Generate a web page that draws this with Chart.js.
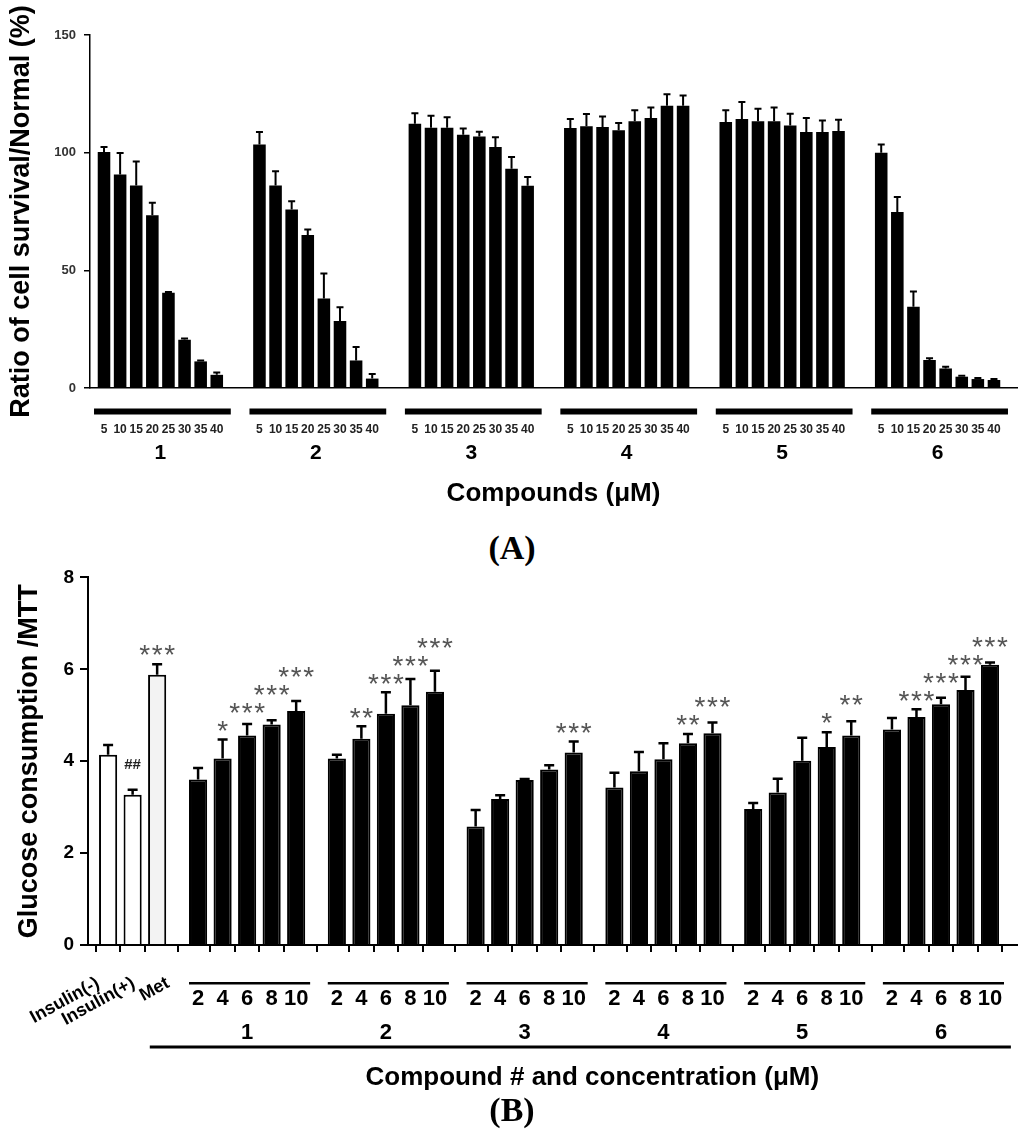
<!DOCTYPE html>
<html><head><meta charset="utf-8">
<script src="https://cdn.jsdelivr.net/npm/chart.js@4.4.1/dist/chart.umd.min.js"></script>
<style>
body{margin:0;background:#fff;}
#wrap{position:relative;width:1024px;height:1140px;overflow:hidden;background:#fff;}
canvas{position:absolute;left:0;}
.panel{position:absolute;left:0;width:1024px;text-align:center;font:bold 34px "Liberation Serif","Times New Roman",serif;color:#000;line-height:34px;}
</style></head><body>
<div id="wrap">
<canvas id="chartA" width="1024" height="520" style="top:0;width:1024px;height:520px"></canvas>
<div class="panel" style="top:531px">(A)</div>
<canvas id="chartB" width="1024" height="580" style="top:560px;width:1024px;height:580px"></canvas>
<div class="panel" style="top:1093px">(B)</div>
</div>
<script>
// ---------------- Panel A data ----------------
const concA = ['5','10','15','20','25','30','35','40'];
const compoundsA = ['1','2','3','4','5','6'];
const yTicksA = [0, 50, 100, 150];
const survival1 = [100.3, 90.7, 86.0, 73.4, 40.5, 20.5, 11.3, 5.6];
const survivalErr1 = [2.1, 9.2, 10.2, 5.3, 0.3, 0.5, 0.4, 1.0];
const survival2 = [103.5, 86.0, 75.8, 65.0, 38.0, 28.5, 11.7, 4.0];
const survivalErr2 = [5.3, 6.1, 3.6, 2.4, 10.7, 5.8, 5.7, 1.9];
const survival3 = [112.3, 110.6, 110.6, 107.6, 106.9, 102.4, 93.2, 85.9];
const survivalErr3 = [4.5, 5.1, 4.4, 2.7, 2.0, 4.2, 5.0, 3.8];
const survival4 = [110.5, 111.2, 110.9, 109.5, 113.3, 114.7, 119.9, 119.9];
const survivalErr4 = [3.8, 5.2, 4.5, 3.1, 4.7, 4.5, 4.9, 4.4];
const survival5 = [113.0, 114.3, 113.3, 113.3, 111.5, 108.8, 108.8, 109.2];
const survivalErr5 = [5.0, 7.2, 5.4, 5.9, 5.0, 5.9, 4.9, 4.8];
const survival6 = [100.0, 74.8, 34.5, 11.9, 8.3, 4.8, 3.8, 3.4];
const survivalErr6 = [3.5, 6.4, 6.5, 0.7, 0.7, 0.4, 0.4, 0.4];

// ---------------- Panel B data ----------------
const controlsB = ['Insulin(-)', 'Insulin(+)', 'Met'];
const controlValues = [4.14, 3.27, 5.88];
const controlErr = [0.21, 0.11, 0.23];
const controlSig = ['', '##', '***'];
const concB = ['2','4','6','8','10'];
const compoundsB = ['1','2','3','4','5','6'];
const yTicksB = [0, 2, 4, 6, 8];
const glucose1 = [3.60, 4.06, 4.56, 4.80, 5.09];
const glucoseErr1 = [0.25, 0.41, 0.25, 0.09, 0.22];
const sig1 = ['', '*', '***', '***', '***'];
const glucose2 = [4.06, 4.49, 5.03, 5.22, 5.51];
const glucoseErr2 = [0.08, 0.27, 0.47, 0.57, 0.46];
const sig2 = ['', '**', '***', '***', '***'];
const glucose3 = [2.58, 3.18, 3.59, 3.82, 4.19];
const glucoseErr3 = [0.36, 0.08, 0.02, 0.09, 0.24];
const sig3 = ['', '', '', '', '***'];
const glucose4 = [3.43, 3.78, 4.04, 4.39, 4.61];
const glucoseErr4 = [0.32, 0.42, 0.35, 0.20, 0.23];
const sig4 = ['', '', '', '**', '***'];
const glucose5 = [2.96, 3.32, 4.01, 4.31, 4.56];
const glucoseErr5 = [0.13, 0.30, 0.50, 0.32, 0.31];
const sig5 = ['', '', '', '*', '**'];
const glucose6 = [4.69, 4.96, 5.24, 5.55, 6.10];
const glucoseErr6 = [0.25, 0.17, 0.14, 0.29, 0.05];
const sig6 = ['', '***', '***', '***', '***'];

// ---------------- helpers ----------------
const FONT = '"Liberation Sans", Arial, Helvetica, sans-serif';
Chart.defaults.font.family = FONT;
Chart.defaults.color = '#000';

function drawErrorBars(chart, errors, capHalf, lw) {
  const meta = chart.getDatasetMeta(0);
  const ys = chart.scales.y;
  const data = chart.data.datasets[0].data;
  const ctx = chart.ctx;
  ctx.save();
  ctx.strokeStyle = '#000'; ctx.lineWidth = lw;
  meta.data.forEach((el, i) => {
    const e = errors[i];
    if (!e) return;
    const top = ys.getPixelForValue(data[i].y + e);
    ctx.beginPath();
    ctx.moveTo(el.x, el.y); ctx.lineTo(el.x, top);
    ctx.moveTo(el.x - capHalf, top); ctx.lineTo(el.x + capHalf, top);
    ctx.stroke();
  });
  ctx.restore();
}
function noSidePadding(s) { s.paddingLeft = 0; s.paddingRight = 0; }

// ---------------- Panel A ----------------
const GROUP_A = 9.65;
const survivalAll = [survival1, survival2, survival3, survival4, survival5, survival6];
const survivalErrAll = [survivalErr1, survivalErr2, survivalErr3, survivalErr4, survivalErr5, survivalErr6];
const pointsA = [], errA = [], labelsA = [];
survivalAll.forEach((arr, g) => arr.forEach((v, i) => {
  pointsA.push({x: g * GROUP_A + i, y: v});
  errA.push(survivalErrAll[g][i]);
  labelsA.push(concA[i]);
}));

const pluginA = {
  id: 'annA',
  afterDatasetsDraw(chart) { drawErrorBars(chart, errA, 3.5, 2); },
  afterDraw(chart) {
    const ctx = chart.ctx, xs = chart.scales.x;
    ctx.save();
    compoundsA.forEach((name, g) => {
      const x0 = xs.getPixelForValue(g * GROUP_A - 0.62);
      const x1 = xs.getPixelForValue(g * GROUP_A + concA.length - 1 + 0.87);
      ctx.fillStyle = '#000';
      ctx.fillRect(x0, 408.5, x1 - x0, 6);
      ctx.font = 'bold 21px ' + FONT;
      ctx.textAlign = 'center'; ctx.textBaseline = 'middle';
      ctx.fillText(name, xs.getPixelForValue(g * GROUP_A + (concA.length - 1) / 2), 453);
    });
    ctx.restore();
  }
};

new Chart(document.getElementById('chartA'), {
  type: 'bar',
  data: { datasets: [{ data: pointsA, backgroundColor: '#000', borderWidth: 0,
    barPercentage: 0.78, categoryPercentage: 1 }] },
  options: {
    responsive: false, animation: false, devicePixelRatio: 1,
    layout: { autoPadding: false, padding: { top: 35, right: 7, left: 0, bottom: 11 } },
    plugins: { legend: { display: false }, tooltip: { enabled: false } },
    scales: {
      x: {
        type: 'linear', min: -0.87, max: 5 * GROUP_A + 7 + 1.43, offset: false,
        afterBuildTicks: s => { s.ticks = pointsA.map(p => ({ value: p.x })); },
        afterFit: s => { s.height = 520 - 388 - 11; noSidePadding(s); },
        ticks: { autoSkip: false, maxRotation: 0, minRotation: 0, padding: 34,
          font: { size: 12, weight: 'bold' }, color: '#222',
          callback: (v, i) => labelsA[i] },
        grid: { display: true, drawOnChartArea: false, drawTicks: false },
        border: { display: true, color: '#000', width: 1.5 },
        title: { display: true, text: 'Compounds (\u03bcM)', font: { size: 26, weight: 'bold' },
          padding: { top: 0, bottom: 0 }, color: '#000' }
      },
      y: {
        min: 0, max: 150,
        afterBuildTicks: s => { s.ticks = yTicksA.map(v => ({ value: v })); },
        afterFit: s => { s.width = 90; },
        ticks: { padding: 8, font: { size: 13, weight: 'bold' }, color: '#333' },
        grid: { display: true, drawOnChartArea: false, drawTicks: true, tickLength: 6, color: '#000', lineWidth: 1.5 },
        border: { display: true, color: '#000', width: 1.5 },
        title: { display: true, text: 'Ratio of cell survival/Normal (%)', font: { size: 27, weight: 'bold' },
          padding: { top: 5, bottom: 0 }, color: '#000' }
      }
    }
  },
  plugins: [pluginA]
});

// ---------------- Panel B ----------------
const GROUP_B = 5.66, START_B = 3.67;
const glucoseAll = [glucose1, glucose2, glucose3, glucose4, glucose5, glucose6];
const glucoseErrAll = [glucoseErr1, glucoseErr2, glucoseErr3, glucoseErr4, glucoseErr5, glucoseErr6];
const sigAll = [sig1, sig2, sig3, sig4, sig5, sig6];
const pointsB = [], errB = [], sigB = [], groupB = [], labelsB = [], fillB = [];
controlValues.forEach((v, i) => {
  pointsB.push({x: i, y: v}); errB.push(controlErr[i]); sigB.push(controlSig[i]);
  groupB.push(-1); labelsB.push(''); fillB.push(i === 2 ? '#f3f3f3' : '#ffffff');
});
glucoseAll.forEach((arr, g) => arr.forEach((v, i) => {
  pointsB.push({x: START_B + g * GROUP_B + i, y: v});
  errB.push(glucoseErrAll[g][i]); sigB.push(sigAll[g][i]);
  groupB.push(g); labelsB.push(concB[i]); fillB.push('#000');
}));
const lastXB = pointsB[pointsB.length - 1].x;
const CONTROL_LABEL_SHIFT = [-10, 1, 11];   // layout: where each rotated label ends, relative to its bar

const pluginB = {
  id: 'annB',
  afterDatasetsDraw(chart) { drawErrorBars(chart, errB, 5, 2.5); },
  afterDraw(chart) {
    const ctx = chart.ctx, xs = chart.scales.x, ys = chart.scales.y;
    const meta = chart.getDatasetMeta(0);
    ctx.save();
    // significance marks
    let prevY = null, prevGroup = null;
    meta.data.forEach((el, i) => {
      const s = sigB[i];
      if (groupB[i] !== prevGroup) prevY = null;
      prevGroup = groupB[i];
      if (!s) { prevY = null; return; }
      const top = ys.getPixelForValue(pointsB[i].y + errB[i]);
      if (s[0] === '#') {
        const yc = top - 26;
        ctx.font = 'bold 15px ' + FONT; ctx.fillStyle = '#222';
        ctx.textAlign = 'center'; ctx.textBaseline = 'alphabetic';
        ctx.fillText(s, el.x, yc + 0.36 * 15);
        prevY = yc;
      } else {
        let yc = top - 16;
        if (prevY !== null && yc > prevY - 18) yc = prevY - 18;
        const fs = 28, pitch = 12.5;
        ctx.font = fs + 'px ' + FONT; ctx.fillStyle = '#555';
        ctx.textAlign = 'center'; ctx.textBaseline = 'alphabetic';
        for (let k = 0; k < s.length; k++) {
          ctx.fillText('*', el.x + (k - (s.length - 1) / 2) * pitch, yc + 0.58 * fs);
        }
        prevY = yc;
      }
    });
    // rotated control labels
    ctx.fillStyle = '#000';
    ctx.font = 'bold 18px ' + FONT;
    controlsB.forEach((name, i) => {
      const x = xs.getPixelForValue(i) + CONTROL_LABEL_SHIFT[i];
      ctx.save();
      ctx.translate(x, 422);
      ctx.rotate(-29 * Math.PI / 180);
      ctx.textAlign = 'right'; ctx.textBaseline = 'middle';
      ctx.fillText(name, 0, 0);
      ctx.restore();
    });
    // group lines and compound numbers
    compoundsB.forEach((name, g) => {
      const first = START_B + g * GROUP_B, last = first + concB.length - 1;
      const x0 = xs.getPixelForValue(first - 0.37), x1 = xs.getPixelForValue(last + 0.57);
      ctx.fillStyle = '#000';
      ctx.fillRect(x0, 422, x1 - x0, 2.5);
      ctx.font = 'bold 22px ' + FONT;
      ctx.textAlign = 'center'; ctx.textBaseline = 'middle';
      ctx.fillText(name, xs.getPixelForValue((first + last) / 2), 473);
    });
    // long line and axis title
    const lx0 = xs.getPixelForValue(2 - 0.3), lx1 = xs.getPixelForValue(lastXB + 0.85);
    ctx.fillRect(lx0, 485.5, lx1 - lx0, 3);
    ctx.font = 'bold 26px ' + FONT;
    ctx.textAlign = 'center'; ctx.textBaseline = 'middle';
    ctx.fillText('Compound # and concentration (\u03bcM)', (lx0 + lx1) / 2 + 12, 518);
    ctx.restore();
  }
};

new Chart(document.getElementById('chartB'), {
  type: 'bar',
  data: { datasets: [{ data: pointsB, backgroundColor: fillB, borderColor: '#000', borderWidth: 2,
    borderSkipped: 'bottom', barPercentage: 0.74, categoryPercentage: 1 }] },
  options: {
    responsive: false, animation: false, devicePixelRatio: 1,
    layout: { autoPadding: false, padding: { top: 17, right: 7, left: 0, bottom: 0 } },
    plugins: { legend: { display: false }, tooltip: { enabled: false } },
    scales: {
      x: {
        type: 'linear', min: -0.82, max: lastXB + 1.1, offset: false,
        afterBuildTicks: s => { s.ticks = pointsB.map(p => ({ value: p.x })); },
        afterFit: s => { s.height = 580 - 385; noSidePadding(s); },
        ticks: { autoSkip: false, maxRotation: 0, minRotation: 0, padding: 34,
          font: { size: 22, weight: 'bold' }, color: '#000',
          callback: (v, i) => labelsB[i] },
        grid: { display: true, drawOnChartArea: false, drawTicks: true, tickLength: 7, color: '#000', lineWidth: 2 },
        border: { display: true, color: '#000', width: 2 }
      },
      y: {
        min: 0, max: 8,
        afterBuildTicks: s => { s.ticks = yTicksB.map(v => ({ value: v })); },
        afterFit: s => { s.width = 88; },
        ticks: { padding: 6, font: { size: 19, weight: 'bold' }, color: '#000' },
        grid: { display: true, drawOnChartArea: false, drawTicks: true, tickLength: 8, color: '#000', lineWidth: 2 },
        border: { display: true, color: '#000', width: 2 },
        title: { display: true, text: 'Glucose consumption /MTT', font: { size: 27, weight: 'bold' },
          padding: { top: 13, bottom: 0 }, color: '#000' }
      }
    }
  },
  plugins: [pluginB]
});
</script>
</body></html>
